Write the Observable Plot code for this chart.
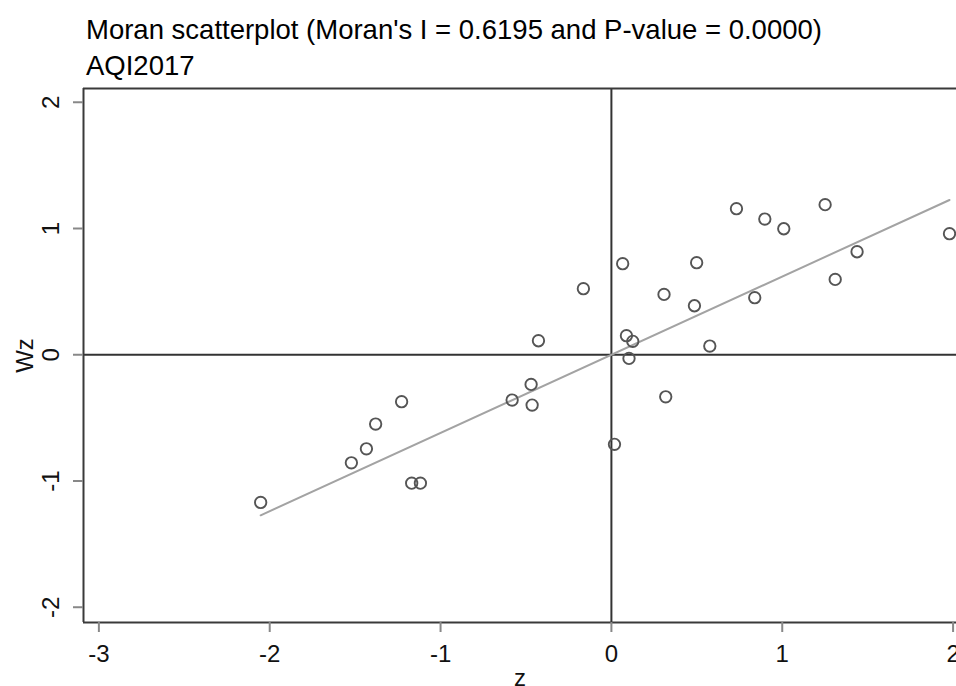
<!DOCTYPE html>
<html><head><meta charset="utf-8">
<script src="https://cdn.jsdelivr.net/npm/d3@7"></script>
<script src="https://cdn.jsdelivr.net/npm/@observablehq/plot@0.6"></script>
<style>
html,body{margin:0;padding:0;background:#fff;overflow:hidden;}
body{width:956px;height:686px;font-family:"Liberation Sans",Arial,sans-serif;}
#head{box-sizing:border-box;height:84px;padding:12px 0 0 86px;font-size:27.5px;line-height:36px;color:#000;white-space:nowrap;}
#chart svg{display:block;}
</style></head><body>
<div id="head"><div>Moran scatterplot (Moran's I = 0.6195 and P-value = 0.0000)</div><div>AQI2017</div></div>
<div id="chart"></div>
<script>
const zValues = [-2.053, -1.522, -1.434, -1.380, -1.228, -1.169, -1.118, -0.581, -0.470, -0.464,
  -0.427, -0.164, 0.018, 0.066, 0.088, 0.103, 0.125, 0.308, 0.318, 0.486,
  0.499, 0.576, 0.732, 0.839, 0.898, 1.009, 1.251, 1.310, 1.438, 1.979];
const wzValues = [-1.170, -0.856, -0.745, -0.549, -0.372, -1.017, -1.017, -0.359, -0.235, -0.399,
  0.111, 0.523, -0.710, 0.721, 0.151, -0.029, 0.106, 0.478, -0.333, 0.388,
  0.729, 0.069, 1.157, 0.452, 1.075, 0.998, 1.189, 0.597, 0.816, 0.959];
const moranI = 0.6195;
const xTicks = [-3, -2, -1, 0, 1, 2];
const yTicks = [-2, -1, 0, 1, 2];
const xDomain = [-3.09, 2.02];
const yDomain = [-2.121, 2.109];

const points = zValues.map((z, i) => ({z, wz: wzValues[i]}));
const lineZ = d3.extent(zValues);
const fmt = d => String(d);

const plot = Plot.plot({
  width: 956, height: 602,
  marginLeft: 83, marginRight: 0, marginTop: 4, marginBottom: 64,
  style: {fontFamily: "Liberation Sans, Arial, sans-serif", background: "#fff", color: "#111"},
  x: {domain: xDomain},
  y: {domain: yDomain},
  marks: [
    Plot.ruleY([0], {stroke: "#333", strokeWidth: 2}),
    Plot.ruleX([0], {stroke: "#333", strokeWidth: 2}),
    Plot.line(lineZ, {x: d => d, y: d => moranI * d, stroke: "#a3a3a3", strokeWidth: 2}),
    Plot.dot(points, {x: "z", y: "wz", r: 5.7, stroke: "#555", strokeWidth: 1.9, fill: "none"}),
    Plot.ruleX([xDomain[0]], {stroke: "#3a3a3a", strokeWidth: 2}),
    Plot.ruleY(yDomain, {stroke: "#3a3a3a", strokeWidth: 2}),
    Plot.axisX(xTicks, {tickFormat: fmt, tickSize: 10, tickPadding: 12, stroke: "#888", strokeWidth: 2, fontSize: 24, color: "#111",
      label: "z", labelAnchor: "center", labelOffset: 63, labelArrow: "none"}),
    Plot.axisY(yTicks, {tickFormat: fmt, tickSize: 10, tickPadding: 15, tickRotate: -90, stroke: "#888", strokeWidth: 2, fontSize: 24, color: "#111",
      label: "Wz", labelAnchor: "center", labelOffset: 68, labelArrow: "none"})
  ]
});
document.getElementById("chart").appendChild(plot);
</script>
</body></html>
